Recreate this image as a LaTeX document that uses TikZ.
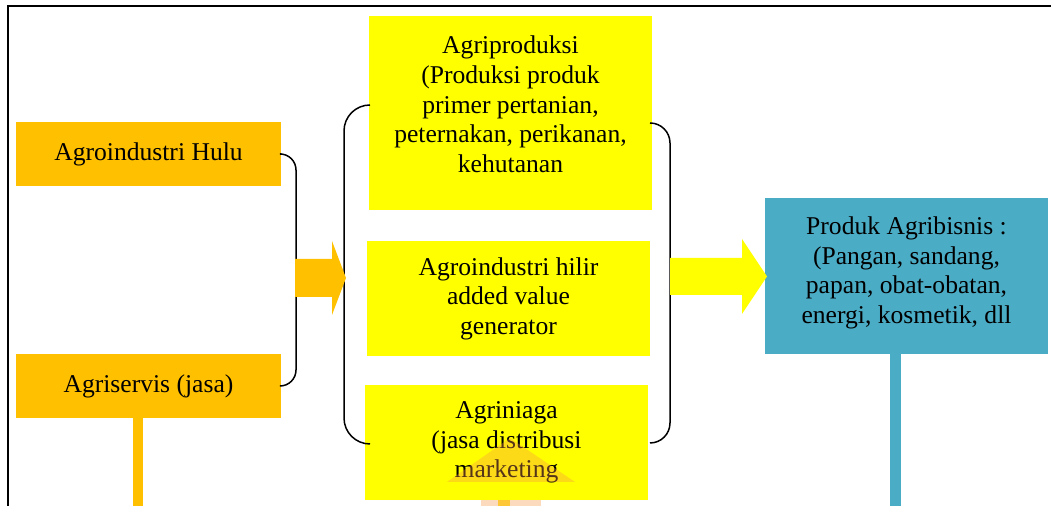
\documentclass[tikz,border=0pt]{standalone}
\usepackage{fontspec}
\setmainfont{Liberation Serif}
\definecolor{hulu}{HTML}{FFC000}
\definecolor{kuning}{HTML}{FFFF00}
\definecolor{biru}{HTML}{4BACC6}
\definecolor{pudar}{HTML}{F79646}
\begin{document}
\begin{tikzpicture}[
    x=0.5pt, y=-0.5pt,
    every node/.style={inner sep=0pt, align=center, font=\fontsize{12.8}{14.8}\selectfont},
    kotak/.style={fill=#1, minimum width=132.5pt, minimum height=32pt},
    blok/.style={fill=#1, minimum width=141.5pt, minimum height=57.5pt},
    kurung/.style={draw=black, line width=0.75pt}
]
\clip (0,0) rectangle (1051,506);
% bingkai
\draw[line width=1pt] (8,6) rectangle (1070,530);
% batang panah bawah (di belakang kotak)
\fill[pudar, opacity=0.35] (481,482) rectangle (541,530);
\fill[hulu, opacity=0.7] (498,482) rectangle (510,530);
% kotak kiri
\node[kotak=hulu] (hulu) at (148.5,154) {Agroindustri Hulu};
\node[kotak=hulu] (servis) at (148.5,386) {Agriservis (jasa)};
\fill[hulu] (133,418) rectangle (143,530);
% kotak tengah
\node[blok=kuning, minimum height=97pt] (produksi) at (510.5,113)
    {Agriproduksi\\(Produksi produk\\primer pertanian,\\peternakan, perikanan,\\kehutanan\\[-6pt]\mbox{}};
\node[blok=kuning] (hilir) at (508.5,298.5) {Agroindustri hilir\\added value\\generator};
\node[blok=kuning] (niaga) at (506.5,442.5) {Agriniaga\\(jasa distribusi\\marketing};
% kotak kanan
\node[blok=biru, minimum height=78pt] (produk) at (906.5,276)
    {Produk Agribisnis :\\(Pangan, sandang,\\papan, obat-obatan,\\energi, kosmetik, dll\\[-8.8pt]\mbox{}};
\fill[biru] (890,354) rectangle (901,530);
% kurung
\draw[kurung, rounded corners=8pt] (hulu.east) -| (296,270) |- (servis.east);
\coordinate (kiriatas) at (370,105);
\coordinate (kiribawah) at (370,444);
\coordinate (kananatas) at (650,123);
\coordinate (kananbawah) at (650,443);
\draw[kurung, rounded corners=13pt] (kiriatas) -| (344,270) |- (kiribawah);
\draw[kurung, rounded corners=10pt] (kananatas) -| (670,270) |- (kananbawah);
% panah
\fill[hulu] (295,259) -- (332,259) -- (332,241) -- (346,278)
    -- (332,315) -- (332,297) -- (295,297) -- cycle;
\fill[kuning] (670,258) -- (742,258) -- (742,239) -- (767,276.5)
    -- (742,314) -- (742,295) -- (670,295) -- cycle;
\fill[pudar, opacity=0.35] (510,438) -- (575,482) -- (447,482) -- cycle;
\end{tikzpicture}
\end{document}
